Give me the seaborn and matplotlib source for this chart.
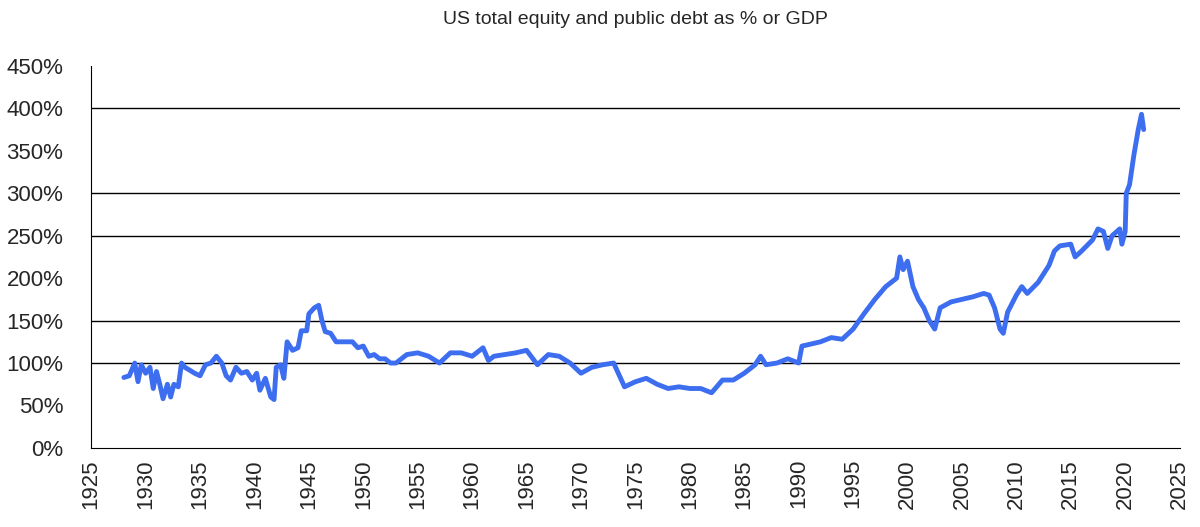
import matplotlib
matplotlib.use("Agg")
import matplotlib.pyplot as plt
import seaborn as sns
import pandas as pd
from matplotlib.ticker import FuncFormatter

# values
years = [1928.0, 1928.5, 1929.0, 1929.3, 1929.6, 1930.0, 1930.4, 1930.7, 1931.0, 1931.3,
         1931.6, 1932.0, 1932.3, 1932.6, 1933.0, 1933.3, 1933.6, 1934.0, 1934.5, 1935.0,
         1935.5, 1936.0, 1936.5, 1937.0, 1937.4, 1937.8, 1938.3, 1938.8, 1939.3, 1939.8,
         1940.2, 1940.5, 1941.0, 1941.5, 1941.8, 1942.0, 1942.4, 1942.7, 1943.0, 1943.5,
         1944.0, 1944.3, 1944.8, 1945.0, 1945.5, 1945.9, 1946.2, 1946.5, 1947.0, 1947.5,
         1948.0, 1949.0, 1949.5, 1950.0, 1950.5, 1951.0, 1951.5, 1952.0, 1952.5, 1953.0,
         1953.5, 1954.0, 1955.0, 1956.0, 1957.0, 1958.0, 1959.0, 1960.0, 1961.0, 1961.5,
         1962.0, 1963.0, 1964.0, 1965.0, 1966.0, 1967.0, 1968.0, 1969.0, 1970.0, 1971.0,
         1972.0, 1973.0, 1974.0, 1975.0, 1976.0, 1977.0, 1978.0, 1979.0, 1980.0, 1981.0,
         1982.0, 1983.0, 1984.0, 1985.0, 1986.0, 1986.5, 1987.0, 1988.0, 1989.0, 1990.0,
         1990.3, 1991.0, 1992.0, 1993.0, 1994.0, 1995.0, 1996.0, 1997.0, 1998.0, 1999.0,
         1999.3, 1999.6, 2000.0, 2000.5, 2001.0, 2001.5, 2002.0, 2002.5, 2003.0, 2004.0,
         2005.0, 2006.0, 2007.0, 2007.5, 2008.0, 2008.5, 2008.8, 2009.2, 2010.0, 2010.5,
         2011.0, 2012.0, 2013.0, 2013.5, 2014.0, 2015.0, 2015.4, 2016.0, 2017.0, 2017.5,
         2018.0, 2018.4, 2018.8, 2019.5, 2019.7, 2020.0, 2020.1, 2020.4, 2020.8, 2021.2,
         2021.5, 2021.7]
pct = [83, 85, 100, 78, 98, 88, 95, 70, 90, 75,
       58, 75, 60, 75, 72, 100, 95, 92, 88, 85,
       98, 100, 108, 100, 85, 80, 95, 88, 90, 80,
       88, 68, 82, 60, 57, 95, 98, 82, 125, 115,
       118, 138, 138, 158, 165, 168, 150, 137, 135, 125,
       125, 125, 118, 120, 108, 110, 105, 105, 100, 100,
       105, 110, 112, 108, 100, 112, 112, 108, 118, 103,
       108, 110, 112, 115, 98, 110, 108, 100, 88, 95,
       98, 100, 72, 78, 82, 75, 70, 72, 70, 70,
       65, 80, 80, 88, 98, 108, 98, 100, 105, 100,
       120, 122, 125, 130, 128, 140, 158, 175, 190, 200,
       225, 210, 220, 190, 175, 165, 150, 140, 165, 172,
       175, 178, 182, 180, 165, 140, 135, 160, 180, 190,
       182, 195, 215, 232, 238, 240, 225, 232, 245, 258,
       255, 235, 250, 258, 240, 255, 300, 310, 345, 375,
       393, 375]
grid_levels = [100, 150, 250, 300, 400]
df = pd.DataFrame({"year": years, "pct": pct})

sns.set_style("white")
plt.rcParams['font.family'] = ['Liberation Sans', 'DejaVu Sans']
fig, ax = plt.subplots(figsize=(12, 5.27), dpi=100)
fig.subplots_adjust(left=0.076, right=0.983, top=0.875, bottom=0.15)

for g in grid_levels:
    ax.axhline(g, color="black", lw=1, zorder=0)
sns.lineplot(data=df, x="year", y="pct", color="#3d6ef0", lw=3.5, ax=ax)

ax.set_xlim(1925, 2025)
ax.set_ylim(0, 450)
ax.set_xticks(range(1925, 2026, 5))
ax.set_yticks(range(0, 451, 50))
ax.yaxis.set_major_formatter(FuncFormatter(lambda v, _: f"{v:.0f}%"))
ax.tick_params(axis="x", rotation=90, labelsize=16, length=0, pad=8)
ax.tick_params(axis="y", labelsize=16, length=0, pad=20)
ax.set_xlabel("")
ax.set_ylabel("")
for s in ["top", "right"]:
    ax.spines[s].set_visible(False)
ax.spines["left"].set_color("black")
ax.spines["bottom"].set_color("black")
ax.set_title("US total equity and public debt as % or GDP", fontsize=14, pad=30)

fig.savefig("out.png")
